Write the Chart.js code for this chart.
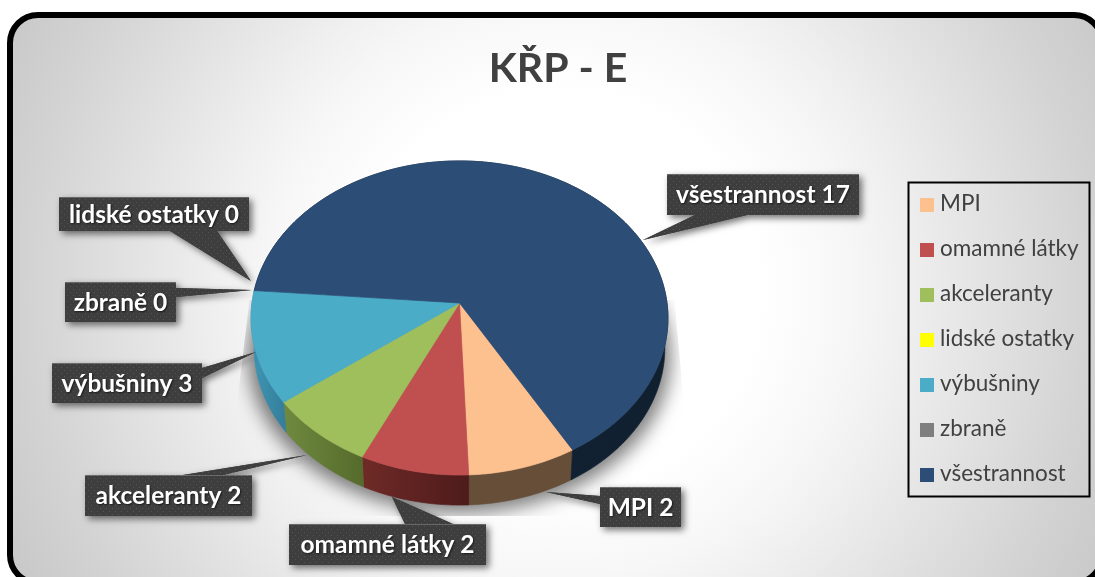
<!DOCTYPE html>
<html><head><meta charset="utf-8">
<style>html,body{margin:0;padding:0;background:#fff}#w{width:1095px;height:577px;position:relative}</style>
<script src="https://cdn.jsdelivr.net/npm/chart.js@4/dist/chart.umd.min.js"></script>
</head><body><div id="w"><canvas id="c" width="1095" height="577"></canvas></div>
<script>
const categories = ['MPI','omamné látky','akceleranty','lidské ostatky','výbušniny','zbraně','všestrannost'];
const values = [2,2,2,0,3,0,17];
const colors = ['#FDC18F','#C0504F','#9FBE5C','#FFFF00','#4BACC8','#7F7F7F','#2C4D76'];
const sideLeft = ['#664E38','#6E2A27','#6F8A3F','#FFFF00','#3F97B5','#7F7F7F','#13233A'];
const sideRight = ['#664E38','#4E1B1B','#566B2C','#FFFF00','#357F9B','#7F7F7F','#10202F'];
const titleText = 'KŘP - E';
// label box [x,y,w,h], callout triangle: tip, base1, base2
const callouts = [
 {box:[600,487,81,40],tip:[546,492],b1:[600,496],b2:[600,504]},
 {box:[289,524,197,41],tip:[392,497],b1:[405,524],b2:[453,524]},
 {box:[85,475,167,41],tip:[307,455],b1:[183,475],b2:[223,475]},
 {box:[59,197,190,34],tip:[251,281],b1:[170,231],b2:[217,231]},
 {box:[52,363,150,40],tip:[256,352],b1:[202,368],b2:[202,378]},
 {box:[65,282,111,40],tip:[252,290],b1:[176,288],b2:[176,297]},
 {box:[667,174,192,41],tip:[643,240],b1:[695,215],b2:[747,215]}
];
const FONT='Lato, Carlito, sans-serif';
const persp=0.0955, yRatio=0.75, depth=30, lowerScale=0.985;
function proj(a,cx,cy,R){
  const u=Math.cos(a), v=Math.sin(a), d=1-persp*v;
  return [cx+R*u/d, cy+R*yRatio*v/d];
}
function dotPattern(ctx){
  const c=document.createElement('canvas');c.width=c.height=6;
  const g=c.getContext('2d');g.fillStyle='#3E3E3E';g.fillRect(0,0,6,6);
  g.fillStyle='#545454';
  [[1,1],[4,4]].forEach(p=>g.fillRect(p[0],p[1],1,1));
  return ctx.createPattern(c,'repeat');
}
const scene={
  id:'scene',
  afterLayout(chart){ chart.titleBlock.left+=98.5; chart.titleBlock.right+=98.5; },
  beforeDraw(chart){
    const ctx=chart.ctx;
    ctx.save();
    ctx.fillStyle='#fff';ctx.fillRect(0,0,1095,577);
    ctx.beginPath();ctx.roundRect(10,15,1092,568,28);
    const g=ctx.createRadialGradient(560,290,0,560,290,640);
    g.addColorStop(0,'#ffffff');g.addColorStop(0.31,'#ffffff');g.addColorStop(0.45,'#f7f7f7');
    g.addColorStop(0.53,'#f0f0f0');g.addColorStop(0.83,'#d3d3d3');g.addColorStop(1,'#c5c5c5');
    ctx.fillStyle=g;ctx.fill();
    ctx.lineWidth=6;ctx.strokeStyle='#000';ctx.stroke();
    ctx.restore();
  },
  beforeDatasetDraw(chart,args){
    const ctx=chart.ctx, meta=args.meta, arcs=meta.data;
    const cx=arcs[0].x, cy=arcs[0].y, R=arcs[0].outerRadius;
    const path=(a0,a1)=>{
      const n=Math.max(2,Math.ceil((a1-a0)/0.01));const pts=[];
      for(let i=0;i<=n;i++)pts.push(proj(a0+(a1-a0)*i/n,cx,cy,R));
      return pts;
    };
    const low=p=>[cx+(p[0]-cx)*lowerScale,p[1]+depth];
    ctx.save();
    // soft shadow only (shape kept off canvas), cut off by a trapezoid as in the reference
    const full=path(0,Math.PI*2);
    const away=3000;
    ctx.save();
    ctx.beginPath();
    ctx.moveTo(cx-210,300);ctx.lineTo(cx+215,300);ctx.lineTo(cx+224,400);ctx.lineTo(cx+224,516);ctx.lineTo(cx-224,516);ctx.lineTo(cx-222,400);ctx.closePath();
    ctx.clip();
    ctx.shadowColor='rgba(0,0,0,0.5)';ctx.shadowBlur=18;ctx.shadowOffsetY=8;ctx.shadowOffsetX=away;
    ctx.fillStyle='#000';ctx.beginPath();
    full.forEach((p,i)=>{const q=low(p);const x=cx+(q[0]-cx)*1.03-away;i?ctx.lineTo(x,q[1]):ctx.moveTo(x,q[1]);});
    ctx.closePath();ctx.fill();ctx.restore();
    // rim
    arcs.forEach((arc,i)=>{
      if(!values[i])return;
      const pts=path(arc.startAngle,arc.endAngle);
      const xs=pts.map(p=>p[0]);
      const g=ctx.createLinearGradient(Math.min(...xs),0,Math.max(...xs),0);
      g.addColorStop(0,sideLeft[i]);g.addColorStop(1,sideRight[i]);
      ctx.fillStyle=g;ctx.strokeStyle=g;ctx.lineWidth=0.7;
      ctx.beginPath();
      pts.forEach((p,j)=>{j?ctx.lineTo(p[0],p[1]):ctx.moveTo(p[0],p[1]);});
      pts.slice().reverse().forEach(p=>{const q=low(p);ctx.lineTo(q[0],q[1]);});
      ctx.closePath();ctx.fill();ctx.stroke();
    });
    // top surface
    arcs.forEach((arc,i)=>{
      if(!values[i])return;
      const pts=path(arc.startAngle,arc.endAngle);
      ctx.fillStyle=colors[i];ctx.strokeStyle=colors[i];ctx.lineWidth=0.7;
      ctx.beginPath();ctx.moveTo(cx,cy);
      pts.forEach(p=>ctx.lineTo(p[0],p[1]));
      ctx.closePath();ctx.fill();ctx.stroke();
    });
    ctx.restore();
    return false;
  },
  afterDatasetsDraw(chart){
    const ctx=chart.ctx;
    const pat=dotPattern(ctx);
    callouts.forEach((c,i)=>{
      const [x,y,w,h]=c.box;
      ctx.save();
      ctx.shadowColor='rgba(0,0,0,0.55)';ctx.shadowBlur=7;ctx.shadowOffsetX=3;ctx.shadowOffsetY=3;
      ctx.fillStyle=pat;
      ctx.beginPath();ctx.rect(x,y,w,h);
      ctx.moveTo(c.b1[0],c.b1[1]);ctx.lineTo(c.tip[0],c.tip[1]);ctx.lineTo(c.b2[0],c.b2[1]);ctx.closePath();
      ctx.fill('nonzero');
      ctx.restore();
      ctx.save();
      ctx.fillStyle=pat;
      ctx.beginPath();ctx.moveTo(c.b1[0],c.b1[1]);ctx.lineTo(c.tip[0],c.tip[1]);ctx.lineTo(c.b2[0],c.b2[1]);ctx.closePath();ctx.fill();
      ctx.beginPath();ctx.rect(x,y,w,h);ctx.fill();
      ctx.fillStyle='rgba(255,255,255,0.22)';ctx.fillRect(x,y,w,1);
      ctx.font='bold 24.5px '+FONT;ctx.fillStyle='#fff';ctx.textAlign='center';ctx.textBaseline='middle';
      ctx.shadowColor='rgba(0,0,0,0.6)';ctx.shadowBlur=2;ctx.shadowOffsetX=1;ctx.shadowOffsetY=1;
      ctx.fillText(categories[i]+' '+values[i],x+w/2,y+h/2+1);
      ctx.restore();
    });
    // legend
    ctx.save();
    ctx.strokeStyle='#000';ctx.lineWidth=2;ctx.strokeRect(908.5,182.5,181,314);
    ctx.font='22.5px '+FONT;ctx.textBaseline='middle';ctx.textAlign='left';
    categories.forEach((t,i)=>{
      const y=198+i*45;
      ctx.fillStyle=colors[i];ctx.fillRect(920,y,14,14);
      ctx.fillStyle='#404040';ctx.fillText(t,940,y+6);
    });
    ctx.restore();
  }
};
new Chart(document.getElementById('c'),{
  type:'pie',
  data:{labels:categories,datasets:[{data:values,backgroundColor:colors,borderWidth:0}]},
  options:{
    responsive:false,animation:false,rotation:150,
    layout:{padding:{left:0,right:176,top:0,bottom:66.5}},
    plugins:{
      legend:{display:false},tooltip:{enabled:false},
      title:{display:true,text:titleText,color:'#404040',font:{family:FONT,size:41,weight:'bold',lineHeight:1.2},padding:{top:44,bottom:2.3}}
    }
  },
  plugins:[scene]
});
</script></body></html>
